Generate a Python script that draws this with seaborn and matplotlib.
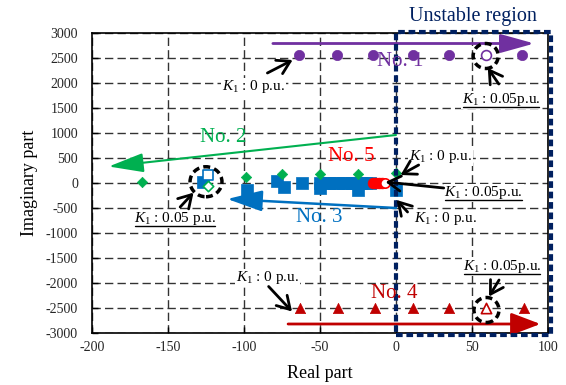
import numpy as np
import pandas as pd
import seaborn as sns
import matplotlib
matplotlib.use("Agg")
import matplotlib.pyplot as plt
from matplotlib.patches import Rectangle, Ellipse
from matplotlib.lines import Line2D

# ---------------- data ----------------
no1_x = [-64, -39, -15, 11, 35, 83]
no1_y = [2550, 2550, 2550, 2550, 2550, 2550]
no1_end_x = [59]
no1_end_y = [2550]

no4_x = [-63, -38, -14, 11, 35, 84]
no4_y = [-2500, -2500, -2500, -2500, -2500, -2500]
no4_end_x = [59.5]
no4_end_y = [-2500]

no2_x = [-167, -99, -75, -50, -25, 0]
no2_y = [15, 125, 180, 180, 180, 200]
no2_end_x = [-124]
no2_end_y = [-70]

no3_x = [-127, -98, -78, -74, -62, -50, -50, -47, -44, -41, -38, -35, -32, -29, -26, -23, -20, -17, -25, 0]
no3_y = [25, -140, 40, -75, 0, 0, -100, 0, 0, 0, 0, 0, 0, 0, 0, 0, 0, 0, -140, -140]
no3_end_x = [-123.5]
no3_end_y = [150]

no5_x = [-15, -13, -11, -9]
no5_y = [0, 0, 0, 0]
no5_end_x = [-7.5]
no5_end_y = [0]

xticks = [-200, -150, -100, -50, 0, 50, 100]
yticks = [-3000, -2500, -2000, -1500, -1000, -500, 0, 500, 1000, 1500, 2000, 2500, 3000]

PURPLE = "#7030A0"
GREEN = "#00B050"
BLUE = "#0070C0"
DRED = "#C00000"
RED = "#FF0000"
NAVY = "#002060"

sns.set_theme(style="ticks")
plt.rcParams["font.family"] = ["Liberation Serif", "DejaVu Serif"]
plt.rcParams["mathtext.fontset"] = "custom"
plt.rcParams["mathtext.rm"] = "Liberation Serif"
plt.rcParams["mathtext.it"] = "Liberation Serif:italic"

fig = plt.figure(figsize=(5.66, 3.85), dpi=100)
ax = fig.add_axes([92 / 566, 1 - 333 / 385, (548 - 92) / 566, 300 / 385])

ax.set_xlim(-200, 100)
ax.set_ylim(-3000, 3000)
ax.set_xticks(xticks)
ax.set_yticks(yticks)
ax.set_xticklabels([str(v) for v in xticks], fontsize=10)
ax.set_yticklabels([str(v) for v in yticks], fontsize=10)
ax.tick_params(direction="in", length=4, width=1, color="black", pad=6)
ax.tick_params(axis="y", pad=10)
ax.grid(True, color="#333333", linestyle=(0, (6, 3)), linewidth=1)
ax.set_axisbelow(True)
for s in ax.spines.values():
    s.set_color("black")
    s.set_linewidth(1.2)


def scat(x, y, marker, color, size, hollow=False, z=3):
    df = pd.DataFrame({"x": x, "y": y})
    if hollow:
        sns.scatterplot(data=df, x="x", y="y", ax=ax, marker=marker, s=size,
                        facecolor="white", edgecolor=color, linewidth=1.2, zorder=z)
    else:
        sns.scatterplot(data=df, x="x", y="y", ax=ax, marker=marker, s=size,
                        color=color, edgecolor=color, linewidth=0.5, zorder=z)


scat(no1_x, no1_y, "o", PURPLE, 55)
scat(no1_end_x, no1_end_y, "o", PURPLE, 50, hollow=True)
scat(no4_x, no4_y, "^", DRED, 55)
scat(no4_end_x, no4_end_y, "^", DRED, 55, hollow=True)
scat(no3_x, no3_y, "s", BLUE, 65, z=3)
scat(no3_end_x, no3_end_y, "s", BLUE, 55, hollow=True, z=4)
scat(no2_x, no2_y, "D", GREEN, 28, z=4)
scat(no2_end_x, no2_end_y, "D", GREEN, 28, hollow=True, z=5)
scat(no5_x, no5_y, "o", RED, 60, z=5)
scat(no5_end_x, no5_end_y, "o", RED, 45, hollow=True, z=6)
ax.set_xlabel("Real part", fontsize=13, color="black", labelpad=8)
ax.set_ylabel("Imaginary part", fontsize=13, color="black", labelpad=6)

# unstable region
rect = Rectangle((0, -3040), 102, 6066, fill=False, edgecolor=NAVY, linewidth=3,
                 linestyle=(0, (1.6, 0.9)), clip_on=False, zorder=7)
ax.add_patch(rect)
fig.text(473 / 566, 1 - 16 / 385, "Unstable region", color=NAVY, fontsize=14.5,
         ha="center", va="center")

# dashed circles
for (cx, cy, w, h) in [(59, 2540, 16.5, 500), (59.5, -2540, 16.5, 500), (-125, 25, 21, 600)]:
    ax.add_patch(Ellipse((cx, cy), w, h, fill=False, edgecolor="black",
                         linewidth=2.5, linestyle=(0, (2, 1.2)), zorder=8))


# big trend arrows
def big_arrow(tail, head, color, lw=2, hl=1.1, hw=0.3, ms=18):
    ax.annotate("", xy=head, xytext=tail,
                arrowprops=dict(arrowstyle=f"-|>,head_length={hl},head_width={hw}",
                                color=color, lw=lw, mutation_scale=ms,
                                shrinkA=0, shrinkB=0), zorder=6, annotation_clip=False)


big_arrow((-81, 2790), (91, 2790), PURPLE, hl=1.15, hw=0.32)
big_arrow((-71, -2820), (95, -2820), DRED, hl=1.0, hw=0.38)
big_arrow((0, 960), (-189, 330), GREEN, lw=1.5, hl=1.2, hw=0.33)
big_arrow((0, -500), (-111, -320), BLUE, lw=1.8, hl=1.2, hw=0.36)

# series labels
ax.text(3, 2420, "No. 1", color=PURPLE, fontsize=15, ha="center", va="center", zorder=9)
ax.text(-113.6, 900, "No. 2", color=GREEN, fontsize=15, ha="center", va="center", zorder=9)
ax.text(-50.6, -700, "No. 3", color=BLUE, fontsize=15, ha="center", va="center", zorder=9)
ax.text(-1.4, -2200, "No. 4", color=DRED, fontsize=15, ha="center", va="center", zorder=9)
ax.text(-29.4, 530, "No. 5", color=RED, fontsize=15, ha="center", va="center", zorder=9)

# K1 annotations
K0 = r"$K_1$ : 0 p.u."
K5 = r"$K_1$ : 0.05p.u."
K5b = r"$K_1$ : 0.05 p.u."
annots = [
    (K0, (-93.9, 1920), (-84.6, 2200), (-68, 2460), False),
    (K5, (69, 1660), (67.6, 1980), (60.4, 2300), True),
    (K5b, (-145.3, -720), (-142, -480), (-133.2, -193), True),
    (K0, (29.4, 520), (14.9, 360), (3, 160), False),
    (K5, (57.7, -200), (31.4, -100), (-6.9, 20), True),
    (K0, (32.7, -720), (7.6, -580), (0.4, -340), False),
    (K0, (-84.6, -1900), (-83.8, -2070), (-68.4, -2570), False),
    (K5, (69.6, -1670), (67.8, -1940), (61.2, -2270), True),
]
underlined = []
for txt, pos, tail, head, ul in annots:
    t = ax.text(pos[0], pos[1], txt, fontsize=11, color="black", ha="center", va="center",
                zorder=9, bbox=dict(boxstyle="square,pad=0.05", fc="white", ec="none"))
    ax.annotate("", xy=head, xytext=tail,
                arrowprops=dict(arrowstyle="->,head_length=0.5,head_width=0.3",
                                color="black", lw=2, mutation_scale=18,
                                shrinkA=0, shrinkB=0), zorder=9)
    if ul:
        underlined.append(t)

fig.canvas.draw()
renderer = fig.canvas.get_renderer()
inv = fig.transFigure.inverted()
for t in underlined:
    bb = t.get_window_extent(renderer)
    x0, y0 = inv.transform((bb.x0 + 1, bb.y0 + 1))
    x1, _ = inv.transform((bb.x1 - 1, bb.y0 + 1))
    fig.add_artist(Line2D([x0, x1], [y0, y0], color="black", lw=1, transform=fig.transFigure, zorder=10))

fig.savefig("out.png", dpi=100)
